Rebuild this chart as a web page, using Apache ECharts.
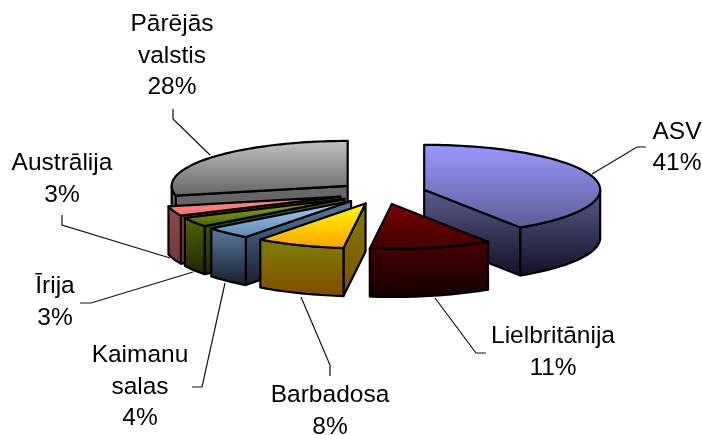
<!DOCTYPE html>
<html>
<head>
<meta charset="utf-8">
<style>html,body{margin:0;padding:0;background:#fff}#c{width:702px;height:435px}</style>
<script src="https://cdn.jsdelivr.net/npm/echarts@6/dist/echarts.min.js"></script>
</head>
<body>
<div id="c"></div>
<script>
// Data
const categories = ['ASV', 'Lielbritānija', 'Barbadosa', 'Kaimanu salas', 'Īrija', 'Austrālija', 'Pārējās valstis'];
const shares = [40.8, 11.2, 8.2, 4.4, 3.45, 3.49, 28.46];

// Style
const topColors = [['#9999ff','#5c5c96'],['#800000','#3c0000'],['#ffff00','#ffa000'],['#a6d2ff','#5f87ad'],['#99bb00','#4a6000'],['#ff8a8a','#ff7070'],['#c4c4c4','#636363']];
const sideColors = [['#5c5c90','#101024'],['#4a0000','#120000'],['#808000','#804c00'],['#5c7c9e','#141e2c'],['#4f6800','#1c2600'],['#8c4c4c','#6e3838'],['#6a6a6a','#585858']];

// Layout
const base = {x: 382, y: 193};
const radius = {x: 176, y: 45};
const depth = 48;
const explode = 0.25;
const drawOrder = [6, 5, 4, 3, 0, 1, 2];
const labelAnchors = [[677,147.5],[553,352],[330,411],[140,387],[55,302],[62,179],[172,56]];
const leaderPaths = [
  [[592,174],[637,147],[646,147]],
  [[435,298],[476,353],[486,353]],
  [[301,297],[330,365],[330,376]],
  [[225,283],[202,387],[192,387]],
  [[193,272],[91,303],[80,303]],
  [[170,258],[62,225],[62,215]],
  [[210,155],[173,119],[173,109]]
];

const total = shares.reduce((a, b) => a + b, 0);
const rad = d => d * Math.PI / 180;
function grad(c) {
  return new echarts.graphic.LinearGradient(0, 0, 0, 1, [{offset: 0, color: c[0]}, {offset: 1, color: c[1]}]);
}
let acc = 0;
const slices = shares.map(v => {
  const a = acc / total * 360;
  acc += v;
  const b = acc / total * 360;
  const m = rad((a + b) / 2);
  return {
    a, b,
    cx: base.x + explode * radius.x * Math.sin(m),
    cy: base.y - explode * radius.y * Math.cos(m)
  };
});
function arcPts(s, from, to) {
  const n = Math.max(1, Math.ceil(Math.abs(to - from) / 1.5));
  const pts = [];
  for (let i = 0; i <= n; i++) {
    const t = rad(from + (to - from) * i / n);
    pts.push([s.cx + radius.x * Math.sin(t), s.cy - radius.y * Math.cos(t)]);
  }
  return pts;
}
function poly(points, colors, z2) {
  return {
    type: 'polygon', z2,
    shape: {points},
    style: {fill: grad(colors), stroke: '#000', lineWidth: 2.2, lineJoin: 'round'}
  };
}
function renderSlice(params, api) {
  const i = api.value(0);
  const s = slices[i];
  const order = drawOrder.indexOf(i) * 10 + 10;
  const kids = [];
  const down = p => [p[0], p[1] + depth];
  const apex = [s.cx, s.cy];
  const radial = ang => {
    const e = arcPts(s, ang, ang)[0];
    return [apex, e, down(e), down(apex)];
  };
  // cut face at the slice start, when it faces the viewer
  if (Math.cos(rad(s.a - 90)) < -1e-6) kids.push(poly(radial(s.a), sideColors[i], order));
  // cut face at the slice end, when it faces the viewer
  if (Math.cos(rad(s.b + 90)) < -1e-6) kids.push(poly(radial(s.b), sideColors[i], order));
  // curved outer wall: only the front half of the ellipse is visible
  const from = Math.max(s.a, 90), to = Math.min(s.b, 270);
  if (to > from) {
    const arc = arcPts(s, from, to);
    kids.push(poly(arc.concat(arc.slice().reverse().map(down)), sideColors[i], order + 1));
  }
  // top face
  kids.push(poly([apex].concat(arcPts(s, s.a, s.b)), topColors[i], order + 2));
  return {type: 'group', children: kids};
}
function renderLabel(params, api) {
  const i = api.value(0);
  const name = categories[i].replace(' ', '\n');
  return {
    type: 'group',
    children: [
      {
        type: 'polyline', z2: 1,
        shape: {points: leaderPaths[i]},
        style: {fill: 'none', stroke: '#111', lineWidth: 1.2}
      },
      {
        type: 'text', z2: 100,
        style: {
          x: labelAnchors[i][0], y: labelAnchors[i][1],
          text: name + '\n' + Math.round(shares[i]) + '%',
          align: 'center', verticalAlign: 'middle',
          font: '24.5px "Liberation Sans", Arial, sans-serif',
          lineHeight: 31.5, fill: '#000'
        }
      }
    ]
  };
}
const chart = echarts.init(document.getElementById('c'), null, {renderer: 'canvas'});
chart.setOption({
  animation: false,
  backgroundColor: '#fff',
  series: [
    {type: 'custom', coordinateSystem: 'none', renderItem: renderLabel, z: 1, data: categories.map((c, i) => [i])},
    {type: 'custom', coordinateSystem: 'none', renderItem: renderSlice, z: 2, data: drawOrder.map(i => [i])}
  ]
});
</script>
</body>
</html>
